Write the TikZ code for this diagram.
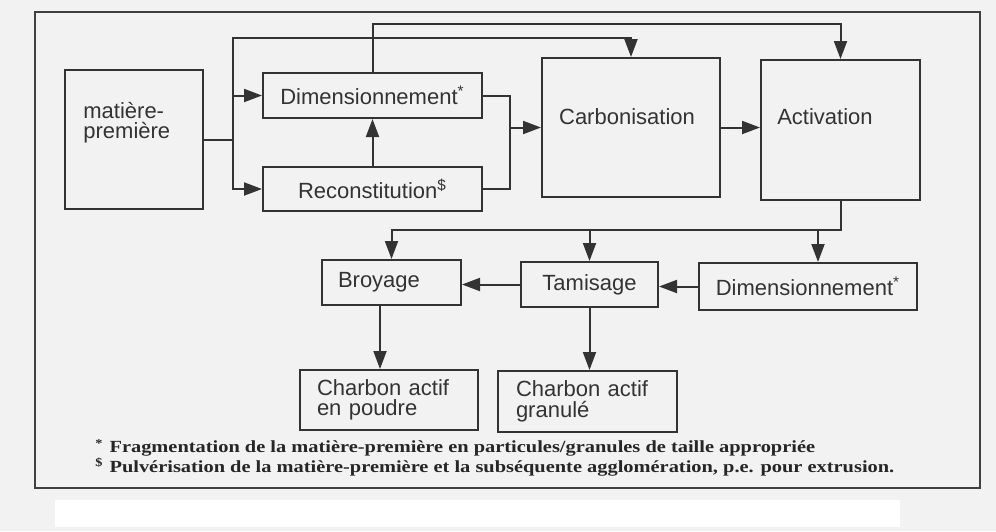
\documentclass[tikz,border=0pt]{standalone}
\usepackage{fontspec}
\setmainfont{Liberation Serif}
\setsansfont{Liberation Sans}
\newfontfamily\notefont{Liberation Serif}[FakeStretch=1.2]
\usetikzlibrary{arrows.meta}

\tikzset{
    stagetext/.style={font=\sffamily\fontsize{11}{10.2}\selectfont, text=black!80, inner sep=0pt},
    stage/.style={stagetext, draw=black!80, line width=1pt},
    flow/.style={draw=black!80, line width=1pt, -{Triangle[length=9pt,width=6.5pt]}},
    link/.style={draw=black!80, line width=1pt},
    note/.style={font=\notefont\bfseries\fontsize{8.5}{9}\selectfont, text=black!85, inner sep=0pt, anchor=west},
}

\begin{document}
\begin{tikzpicture}[x=0.5pt, y=-0.5pt]
    % Page and frame
    \useasboundingbox (0,0) rectangle (996,531);
    \fill[black!5] (0,0) rectangle (996,531);
    \fill[white] (55,500) rectangle (900,527);
    \draw[black!75, line width=1.2pt] (35,12) rectangle (980,488);

    % Stages
    \node[stage, minimum width=69pt, minimum height=69.5pt] (mp) at (134,139.5) {};
    \node[stagetext, align=left, anchor=west] (mptext) at (83,122.5) {matière-\\première};
    \node[stage, minimum width=109.5pt, minimum height=22.5pt] (dimA) at (372.5,95.5) {Dimensionnement\textsuperscript{*}};
    \node[stage, minimum width=109.5pt, minimum height=22pt] (recon) at (372.5,189) {Reconstitution\textsuperscript{\$}};
    \node[stage, minimum width=89pt, minimum height=69.5pt] (carb) at (631,127.5) {};
    \node[stagetext] (carbtext) at (627,117) {Carbonisation};
    \node[stage, minimum width=79.5pt, minimum height=70pt] (activ) at (840.5,130) {};
    \node[stagetext] (activtext) at (825,117) {Activation};
    \node[stage, minimum width=69.5pt, minimum height=22.5pt, text width=53.5pt, inner xsep=8pt, align=left] (broy) at (391.5,282.5) {Broyage};
    \node[stage, minimum width=68.5pt, minimum height=22.5pt] (tamis) at (589.5,284.5) {Tamisage};
    \node[stage, minimum width=109pt, minimum height=23.5pt] (dimB) at (808,286.5) {Dimensionnement\textsuperscript{*}};
    \node[stage, minimum width=89pt, minimum height=30pt, text width=72pt, inner xsep=8.5pt, align=left] (cap) at (389,400) {Charbon actif\\en poudre};
    \node[stage, minimum width=89.5pt, minimum height=30.5pt, text width=71.5pt, inner xsep=9pt, align=left] (cag) at (587.5,401.5) {Charbon actif\\granulé};

    % Feed of the raw material
    \coordinate (split) at (233,139.5);
    \draw[link] (mp.east) -- (split);
    \draw[flow] (split) |- (dimA.west);
    \draw[flow] (split) |- (recon.west);
    \draw[flow] (split) -- ++(0,-102) -| (carb.north);
    \draw[flow] (dimA.north) -- ++(0,-48) -| (activ.north);
    \draw[flow] (recon) -- (dimA);

    % Into carbonisation and activation
    \coordinate (merge) at (510,127.5);
    \draw[link] (dimA.east) -| (merge);
    \draw[link] (recon.east) -| (merge);
    \draw[flow] (merge) -- (carb.west);
    \draw[flow] (carb.east) -- (carb.east -| activ.west);

    % Finishing steps
    \path (activ.south) ++(0,29) coordinate (bus);
    \coordinate (dimBin) at ([xshift=5pt]dimB.north);
    \draw[flow] (activ.south) -- (bus) -| (broy.north);
    \draw[flow] (bus -| tamis.north) -- (tamis.north);
    \draw[flow] (bus -| dimBin) -- (dimBin);
    \draw[flow] (dimB.west) -- (dimB.west -| tamis.east);
    \draw[flow] (tamis.west) -- (tamis.west -| broy.east);
    \coordinate (broyout) at ([xshift=-5.75pt]broy.south);
    \draw[flow] (broyout) -- (broyout |- cap.north);
    \draw[flow] (tamis.south) -- (tamis.south |- cag.north);

    % Footnotes
    \node[note] (fn1) at (95,448) {\textsuperscript{*}\hspace{3pt}Fragmentation de la matière-première en particules/granules de taille appropriée};
    \node[note] (fn2) at (95,467) {\textsuperscript{\$}\hspace{3pt}Pulvérisation de la matière-première et la subséquente agglomération, p.e. pour extrusion.};
\end{tikzpicture}
\end{document}
